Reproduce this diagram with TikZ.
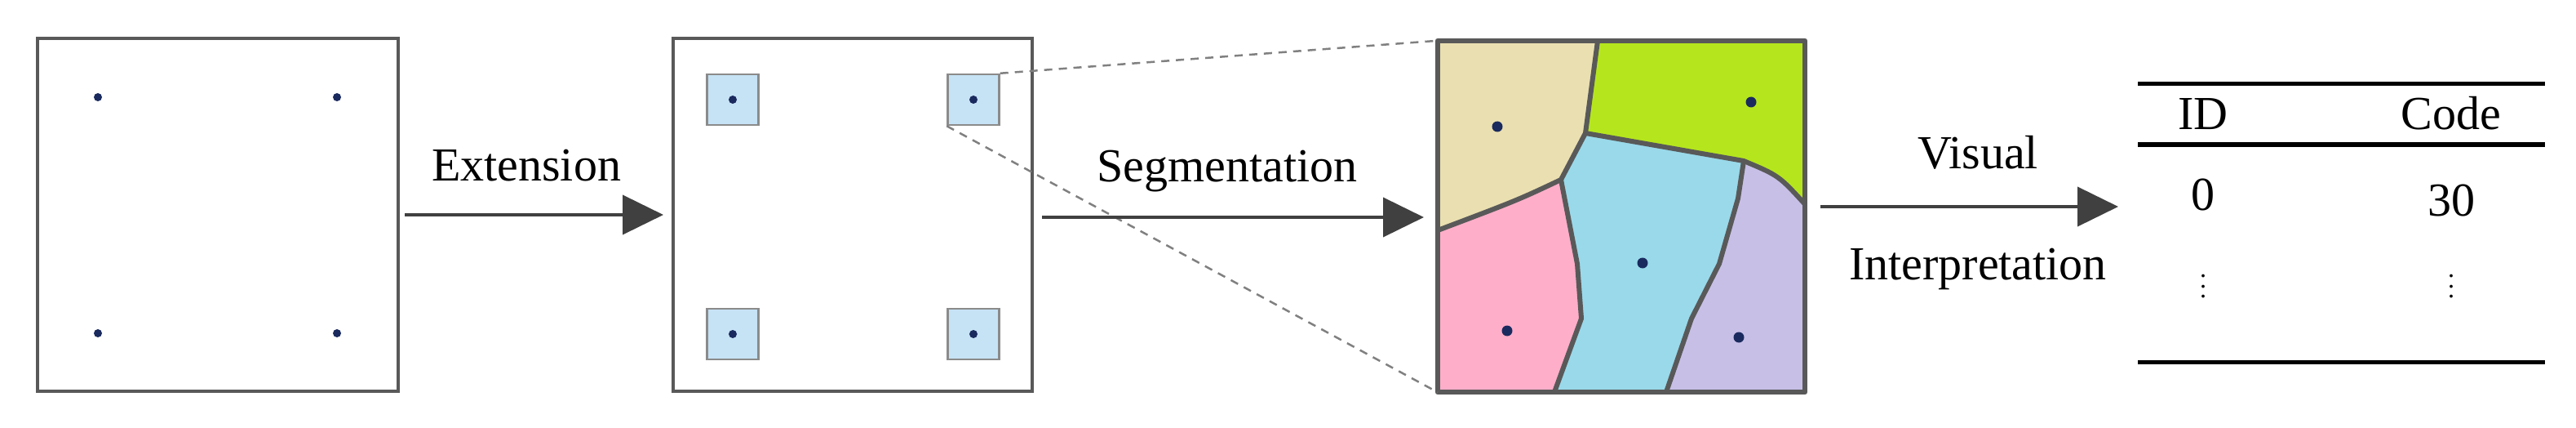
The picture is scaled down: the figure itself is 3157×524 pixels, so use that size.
\documentclass[tikz,border=0pt]{standalone}
\usepackage{fontspec}
\setmainfont{Liberation Serif}
\usetikzlibrary{arrows.meta}
\definecolor{frame}{HTML}{595959}
\definecolor{dotc}{HTML}{1A2A5E}
\definecolor{sq}{HTML}{C6E2F5}
\definecolor{cbeige}{HTML}{EADFB0}
\definecolor{cgreen}{HTML}{B5E61D}
\definecolor{cblue}{HTML}{99D9EA}
\definecolor{cpink}{HTML}{FFAEC9}
\definecolor{clav}{HTML}{C8BFE7}
\tikzset{
  panel/.style={draw=frame,line width=4pt},
  pt/.style={fill=dotc,circle,inner sep=0pt,minimum size=10pt},
  sqbox/.style={draw=frame!70,fill=sq,line width=2.5pt,minimum width=63pt,minimum height=62pt,inner sep=0pt},
  flow/.style={draw=black!75,line width=4pt,-{Triangle[length=50pt,width=48pt]}},
  lbl/.style={font=\fontsize{58}{70}\selectfont,inner sep=0pt},
  seg/.style={draw=frame,line width=6pt,line join=round},
  rule/.style={line width=5pt},
}
\begin{document}
\begin{tikzpicture}[x=1pt,y=-1pt]
\useasboundingbox (0,0) rectangle (3157,524);
% panel 1
\node[panel,minimum width=442pt,minimum height=432pt,inner sep=0pt] (p1) at (267,263) {};
\foreach \x/\y [count=\i] in {120/119,413/119,120/408,413/408} \node[pt] (a\i) at (\x,\y) {};
% panel 2
\node[panel,minimum width=440pt,minimum height=432pt,inner sep=0pt] (p2) at (1045,263) {};
\foreach \x/\y [count=\i] in {898/122,1193/122,898/409,1193/409} {\node[sqbox] (s\i) at (\x,\y) {}; \node[pt] (b\i) at (\x,\y) {};}
% panel 3 segmentation
\node[minimum width=450pt,minimum height=430pt,inner sep=0pt] (p3) at (1987,265) {};
\fill[cbeige] (1762,50) -- (1958,50) -- (1943,163) -- (1913,220) .. controls (1860,245) .. (1762,282) -- cycle;
\fill[cgreen] (1958,50) -- (2212,50) -- (2212,250) .. controls (2180,215) .. (2137,197) .. controls (2040,180) .. (1943,163) -- cycle;
\fill[cpink] (1762,282) .. controls (1860,245) .. (1913,220) -- (1933,323) -- (1938,390) -- (1905,480) -- (1762,480) -- cycle;
\fill[cblue] (1913,220) -- (1943,163) .. controls (2040,180) .. (2137,197) -- (2130,243) -- (2107,323) -- (2073,390) -- (2042,480) -- (1905,480) -- (1938,390) -- (1933,323) -- cycle;
\fill[clav] (2137,197) .. controls (2180,215) .. (2212,250) -- (2212,480) -- (2042,480) -- (2073,390) -- (2107,323) -- (2130,243) -- cycle;
\draw[seg] (1958,50) -- (1943,163) -- (1913,220) .. controls (1860,245) .. (1762,282);
\draw[seg] (1943,163) .. controls (2040,180) .. (2137,197) .. controls (2180,215) .. (2212,250);
\draw[seg] (2137,197) -- (2130,243) -- (2107,323) -- (2073,390) -- (2042,480);
\draw[seg] (1913,220) -- (1933,323) -- (1938,390) -- (1905,480);
\draw[seg] (p3.north west) rectangle (p3.south east);
\foreach \x/\y [count=\i] in {1835/155,2146/125,2013/322,1847/405,2131/413} \node[pt,minimum size=13pt] (c\i) at (\x,\y) {};
% zoom lines
\draw[gray,line width=2.5pt,dash pattern=on 10pt off 8pt] (s2.north east) -- (p3.north west);
\draw[gray,line width=2.5pt,dash pattern=on 10pt off 8pt] (s2.south west) -- (p3.south west);
% arrows
\coordinate (e1) at (813,263);
\draw[flow] (p1.east) ++(6,0) -- (e1);
\node[lbl,anchor=base] (t1) at (645,221) {Extension};
\coordinate (e2) at (1745,266);
\draw[flow] (p2.east) ++(10,3) -- (e2);
\node[lbl,anchor=base] (t2) at (1504,222) {Segmentation};
\coordinate (e3a) at (2231,253);
\coordinate (e3) at (2596,253);
\draw[flow] (e3a) -- (e3);
\node[lbl,anchor=base] (t3) at (2424,206) {Visual};
\node[lbl,anchor=base] (t4) at (2424,342) {Interpretation};
% table
\coordinate (r1a) at (2620,103); \coordinate (r1b) at (3119,103);
\coordinate (r2a) at (2620,177); \coordinate (r2b) at (3119,177);
\coordinate (r3a) at (2620,443); \coordinate (r3b) at (3119,443);
\draw[rule] (r1a) -- (r1b);
\draw[rule] (r2a) -- (r2b);
\draw[rule] (r3a) -- (r3b);
\node[lbl,anchor=base] (h1) at (2700,158) {ID};
\node[lbl,anchor=base] (h2) at (3004,158) {Code};
\node[lbl] (v1) at (2700,238) {0};
\node[lbl] (v2) at (3004,245) {30};
\node[inner sep=0pt] (d1) at (2700,341) {\scalebox{3.2}{$\vdots$}};
\node[inner sep=0pt] (d2) at (3004,341) {\scalebox{3.2}{$\vdots$}};
\end{tikzpicture}
\end{document}
